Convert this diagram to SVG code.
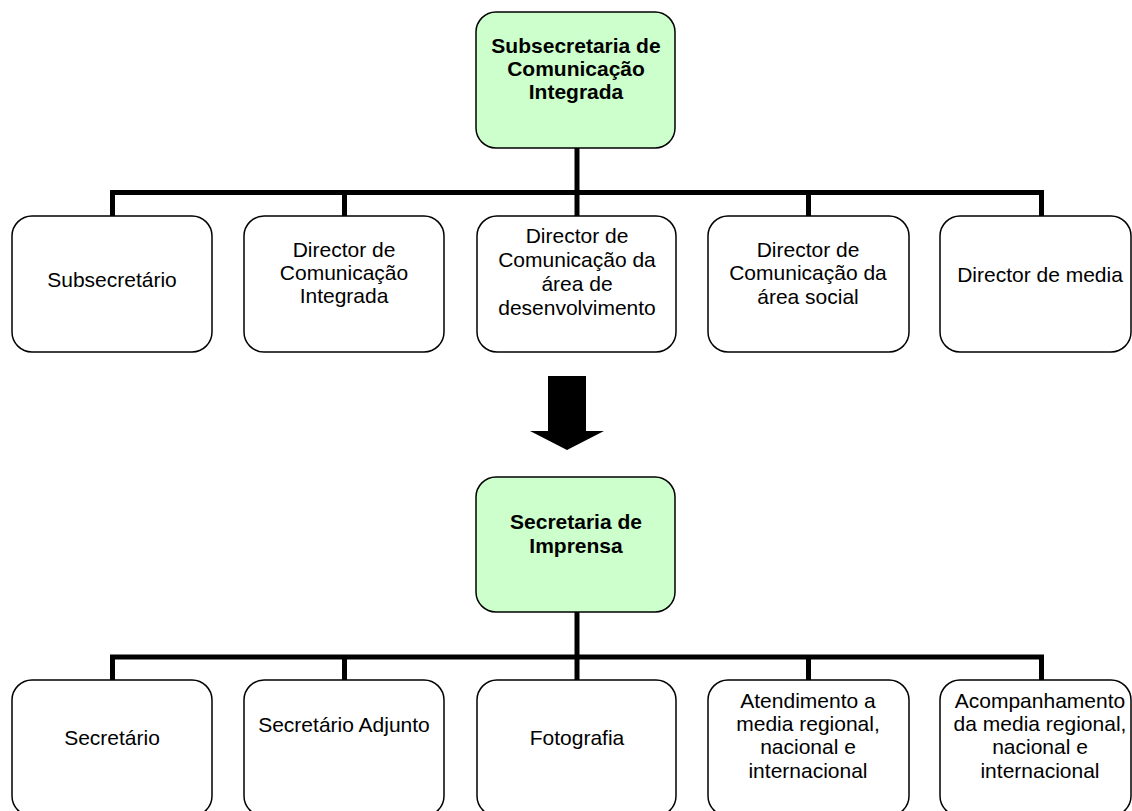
<svg xmlns="http://www.w3.org/2000/svg" width="1132" height="811" viewBox="0 0 1132 811">
<style>
.box{fill:#ffffff;stroke:#000000;stroke-width:1.5}
.head{fill:#ccffcc;stroke:#000000;stroke-width:1.5}
.t{font-family:"Liberation Sans",Arial,sans-serif;font-size:21px;fill:#000000;text-anchor:middle}
.b{font-weight:bold}
.c{fill:none;stroke:#000000;stroke-width:5}
</style>
<rect width="1132" height="811" fill="#ffffff"/>
<g id="connectors">
<path class="c" d="M577,148 V192.5 M112.5,216 V192.5 H1041.5 V216 M344.5,192.5 V216 M577,192.5 V216 M808.5,192.5 V216"/>
<path class="c" d="M577,612 V657 M112.5,680 V657 H1041.5 V680 M344.5,657 V680 M577,657 V680 M808.5,657 V680"/>
<polygon id="arrow" points="548,376 586,376 586,431 604,431 567,450 530,431 548,431" fill="#000000"/>
</g>
<g id="n-subsecretaria">
<rect class="head" x="476" y="12" width="199" height="136" rx="20"/>
<text class="t b" x="576" y="53">Subsecretaria de</text>
<text class="t b" x="576" y="76">Comunicação</text>
<text class="t b" x="576" y="99">Integrada</text>
</g>
<g id="n-subsecretario">
<rect class="box" x="12" y="216" width="200" height="136" rx="20"/>
<text class="t" x="112" y="287">Subsecretário</text>
</g>
<g id="n-dir-integrada">
<rect class="box" x="244" y="216" width="200" height="136" rx="20"/>
<text class="t" x="344" y="257">Director de</text>
<text class="t" x="344" y="280">Comunicação</text>
<text class="t" x="344" y="303">Integrada</text>
</g>
<g id="n-dir-desenv">
<rect class="box" x="477" y="216" width="199" height="136" rx="20"/>
<text class="t" x="577" y="243">Director de</text>
<text class="t" x="577" y="267">Comunicação da</text>
<text class="t" x="577" y="291">área de</text>
<text class="t" x="577" y="315">desenvolvimento</text>
</g>
<g id="n-dir-social">
<rect class="box" x="708" y="216" width="201" height="136" rx="20"/>
<text class="t" x="808" y="257">Director de</text>
<text class="t" x="808" y="280">Comunicação da</text>
<text class="t" x="808" y="304">área social</text>
</g>
<g id="n-dir-media">
<rect class="box" x="940" y="216" width="191" height="136" rx="20"/>
<text class="t" x="1040" y="282">Director de media</text>
</g>
<g id="n-secretaria">
<rect class="head" x="476" y="477" width="199" height="135" rx="20"/>
<text class="t b" x="576" y="529">Secretaria de</text>
<text class="t b" x="576" y="553">Imprensa</text>
</g>
<g id="n-secretario">
<rect class="box" x="12" y="680" width="200" height="136" rx="20"/>
<text class="t" x="112" y="745">Secretário</text>
</g>
<g id="n-adjunto">
<rect class="box" x="244" y="680" width="200" height="136" rx="20"/>
<text class="t" x="344" y="732">Secretário Adjunto</text>
</g>
<g id="n-fotografia">
<rect class="box" x="477" y="680" width="199" height="136" rx="20"/>
<text class="t" x="577" y="745">Fotografia</text>
</g>
<g id="n-atendimento">
<rect class="box" x="708" y="680" width="201" height="136" rx="20"/>
<text class="t" x="808" y="708">Atendimento a</text>
<text class="t" x="808" y="731">media regional,</text>
<text class="t" x="808" y="754">nacional e</text>
<text class="t" x="808" y="778">internacional</text>
</g>
<g id="n-acompanhamento">
<rect class="box" x="940" y="680" width="191" height="136" rx="20"/>
<text class="t" x="1040" y="708">Acompanhamento</text>
<text class="t" x="1040" y="731">da media regional,</text>
<text class="t" x="1040" y="754">nacional e</text>
<text class="t" x="1040" y="778">internacional</text>
</g>
</svg>
